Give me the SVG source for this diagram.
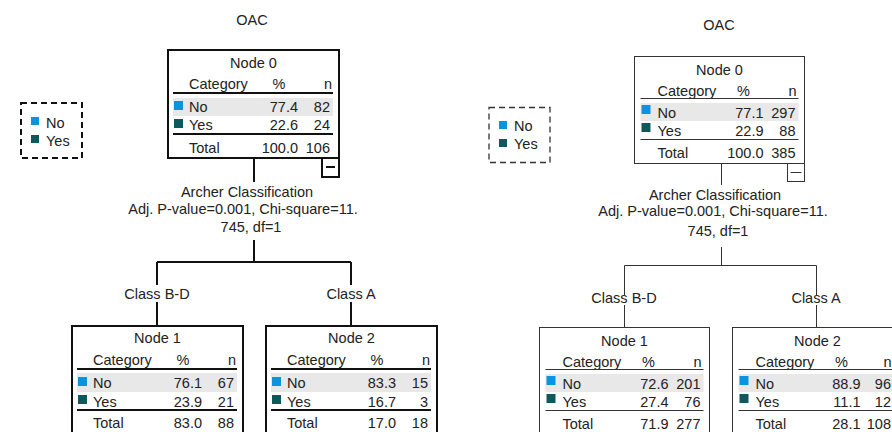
<svg xmlns="http://www.w3.org/2000/svg" width="892" height="432" viewBox="0 0 892 432">
<style>
text{font-family:"Liberation Sans",Arial,sans-serif;font-size:14.5px;fill:#222}
.m{text-anchor:middle}
.e{text-anchor:end}
.bx2{fill:#fff;stroke:#111;stroke-width:2}
.bx1{fill:#fff;stroke:#333;stroke-width:1}
.ln2{stroke:#111;stroke-width:2;fill:none}
.ln1{stroke:#333;stroke-width:1;fill:none}
.gr{fill:#e8e8e8}
.no{fill:#0a94e0}
.yes{fill:#0c5a5c}
.lg2{fill:#fff;stroke:#111;stroke-width:2;stroke-dasharray:6 4}
.lg1{fill:#fff;stroke:#333;stroke-width:1.3;stroke-dasharray:6 4}
</style>

<!-- LEFT PANEL -->
<text id="title-left" class="m" x="252" y="25">OAC</text>

<g id="legend-left">
<rect class="lg2" x="21" y="103" width="61" height="55"/>
<rect class="no" x="31" y="117" width="8" height="8"/>
<text x="46" y="128">No</text>
<rect class="yes" x="31" y="135" width="8" height="8"/>
<text x="46" y="146">Yes</text>
</g>

<g id="connectors-left">
<path class="ln2" d="M254 158V182M254 240V262M157 262H351M157 262V285M157 302V326M351 262V285M351 302V326"/>
<text class="m" x="247" y="197">Archer Classification</text>
<text class="m" x="243" y="214">Adj. P-value=0.001, Chi-square=11.</text>
<text class="m" x="251" y="232">745, df=1</text>
<text class="m" x="157" y="299">Class B-D</text>
<text class="m" x="351" y="299">Class A</text>
</g>

<g id="node0-left" transform="translate(168,50)">
<rect class="bx2" x="0" y="0" width="171" height="108"/>
<text class="m" x="85.5" y="18">Node 0</text>
<text x="21" y="39">Category</text><text class="m" x="111" y="39">%</text><text class="e" x="164" y="39">n</text>
<path class="ln2" d="M5 43H165"/>
<rect class="gr" x="5" y="48" width="160" height="18"/>
<rect class="no" x="6" y="51" width="9" height="9"/>
<text x="21" y="62">No</text><text class="e" x="130" y="62">77.4</text><text class="e" x="162" y="62">82</text>
<rect class="yes" x="6" y="69" width="9" height="9"/>
<text x="21" y="80">Yes</text><text class="e" x="130" y="80">22.6</text><text class="e" x="162" y="80">24</text>
<path class="ln2" d="M5 84H165"/>
<text x="21" y="103">Total</text><text class="e" x="130" y="103">100.0</text><text class="e" x="162" y="103">106</text>
<rect class="bx2" x="154" y="108" width="17" height="19"/>
<path class="ln2" d="M158 117H167"/>
</g>

<g id="node1-left" transform="translate(72,326)">
<rect class="bx2" x="0" y="0" width="171" height="108"/>
<text class="m" x="85.5" y="17">Node 1</text>
<text x="21" y="39">Category</text><text class="m" x="111" y="39">%</text><text class="e" x="164" y="39">n</text>
<path class="ln2" d="M5 43H165"/>
<rect class="gr" x="5" y="47" width="160" height="19"/>
<rect class="no" x="6" y="51" width="9" height="9"/>
<text x="21" y="62">No</text><text class="e" x="130" y="62">76.1</text><text class="e" x="162" y="62">67</text>
<rect class="yes" x="6" y="69" width="9" height="9"/>
<text x="21" y="81">Yes</text><text class="e" x="130" y="81">23.9</text><text class="e" x="162" y="81">21</text>
<path class="ln2" d="M5 84H165"/>
<text x="21" y="102">Total</text><text class="e" x="130" y="102">83.0</text><text class="e" x="162" y="102">88</text>
</g>

<g id="node2-left" transform="translate(266,326)">
<rect class="bx2" x="0" y="0" width="171" height="108"/>
<text class="m" x="85.5" y="17">Node 2</text>
<text x="21" y="39">Category</text><text class="m" x="111" y="39">%</text><text class="e" x="164" y="39">n</text>
<path class="ln2" d="M5 43H165"/>
<rect class="gr" x="5" y="47" width="160" height="19"/>
<rect class="no" x="6" y="51" width="9" height="9"/>
<text x="21" y="62">No</text><text class="e" x="130" y="62">83.3</text><text class="e" x="162" y="62">15</text>
<rect class="yes" x="6" y="69" width="9" height="9"/>
<text x="21" y="81">Yes</text><text class="e" x="130" y="81">16.7</text><text class="e" x="162" y="81">3</text>
<path class="ln2" d="M5 84H165"/>
<text x="21" y="102">Total</text><text class="e" x="130" y="102">17.0</text><text class="e" x="162" y="102">18</text>
</g>

<!-- RIGHT PANEL -->
<text id="title-right" class="m" x="719" y="30">OAC</text>

<g id="legend-right">
<rect class="lg1" x="489" y="107.5" width="61" height="55"/>
<rect class="no" x="499" y="121" width="8" height="8"/>
<text x="514" y="131">No</text>
<rect class="yes" x="499" y="139" width="8" height="8"/>
<text x="514" y="149">Yes</text>
</g>

<g id="connectors-right">
<path class="ln1" d="M721.5 163V185M721.5 247V265.5M624.5 265.5H816.5M624.5 265.5V295M624.5 305V327M816.5 265.5V295M816.5 305V327"/>
<text class="m" x="715" y="200">Archer Classification</text>
<text class="m" x="713" y="216">Adj. P-value=0.001, Chi-square=11.</text>
<text class="m" x="718" y="236">745, df=1</text>
<text class="m" x="624" y="303">Class B-D</text>
<text class="m" x="816" y="303">Class A</text>
</g>

<g id="node0-right" transform="translate(634.5,56.5)">
<rect class="bx1" x="0" y="0" width="170" height="107"/>
<text class="m" x="85" y="18">Node 0</text>
<text x="23" y="39">Category</text><text class="m" x="109" y="39">%</text><text class="e" x="162" y="39">n</text>
<path class="ln1" d="M6 42H164"/>
<rect class="gr" x="6" y="46.5" width="158" height="18"/>
<rect class="no" x="7" y="48.5" width="9" height="9"/>
<text x="23" y="61">No</text><text class="e" x="129" y="61">77.1</text><text class="e" x="161" y="61">297</text>
<rect class="yes" x="7" y="66.5" width="9" height="9"/>
<text x="23" y="79">Yes</text><text class="e" x="129" y="79">22.9</text><text class="e" x="161" y="79">88</text>
<path class="ln1" d="M6 83H164"/>
<text x="23" y="101">Total</text><text class="e" x="129" y="101">100.0</text><text class="e" x="161" y="101">385</text>
<rect class="bx1" x="153" y="107" width="17" height="18"/>
<path class="ln1" d="M156 116H167"/>
</g>

<g id="node1-right" transform="translate(539.5,327.5)">
<rect class="bx1" x="0" y="0" width="170" height="107"/>
<text class="m" x="85" y="18">Node 1</text>
<text x="23" y="39">Category</text><text class="m" x="109" y="39">%</text><text class="e" x="162" y="39">n</text>
<path class="ln1" d="M6 42H164"/>
<rect class="gr" x="6" y="46.5" width="158" height="18"/>
<rect class="no" x="7" y="48.5" width="9" height="9"/>
<text x="23" y="61">No</text><text class="e" x="129" y="61">72.6</text><text class="e" x="161" y="61">201</text>
<rect class="yes" x="7" y="66.5" width="9" height="9"/>
<text x="23" y="79">Yes</text><text class="e" x="129" y="79">27.4</text><text class="e" x="161" y="79">76</text>
<path class="ln1" d="M6 83H164"/>
<text x="23" y="101">Total</text><text class="e" x="129" y="101">71.9</text><text class="e" x="161" y="101">277</text>
</g>

<g id="node2-right" transform="translate(732.5,327.5)">
<rect class="bx1" x="0" y="0" width="170" height="107"/>
<text class="m" x="85" y="18">Node 2</text>
<text x="23" y="39">Category</text><text class="m" x="109" y="39">%</text><text class="e" x="159" y="39">n</text>
<path class="ln1" d="M6 42H164"/>
<rect class="gr" x="6" y="46.5" width="158" height="18"/>
<rect class="no" x="7" y="48.5" width="9" height="9"/>
<text x="23" y="61">No</text><text class="e" x="128" y="61">88.9</text><text class="e" x="158.5" y="61">96</text>
<rect class="yes" x="7" y="66.5" width="9" height="9"/>
<text x="23" y="79">Yes</text><text class="e" x="128" y="79">11.1</text><text class="e" x="158.5" y="79">12</text>
<path class="ln1" d="M6 83H164"/>
<text x="23" y="101">Total</text><text class="e" x="128" y="101">28.1</text><text class="e" x="158.5" y="101">108</text>
</g>
</svg>
